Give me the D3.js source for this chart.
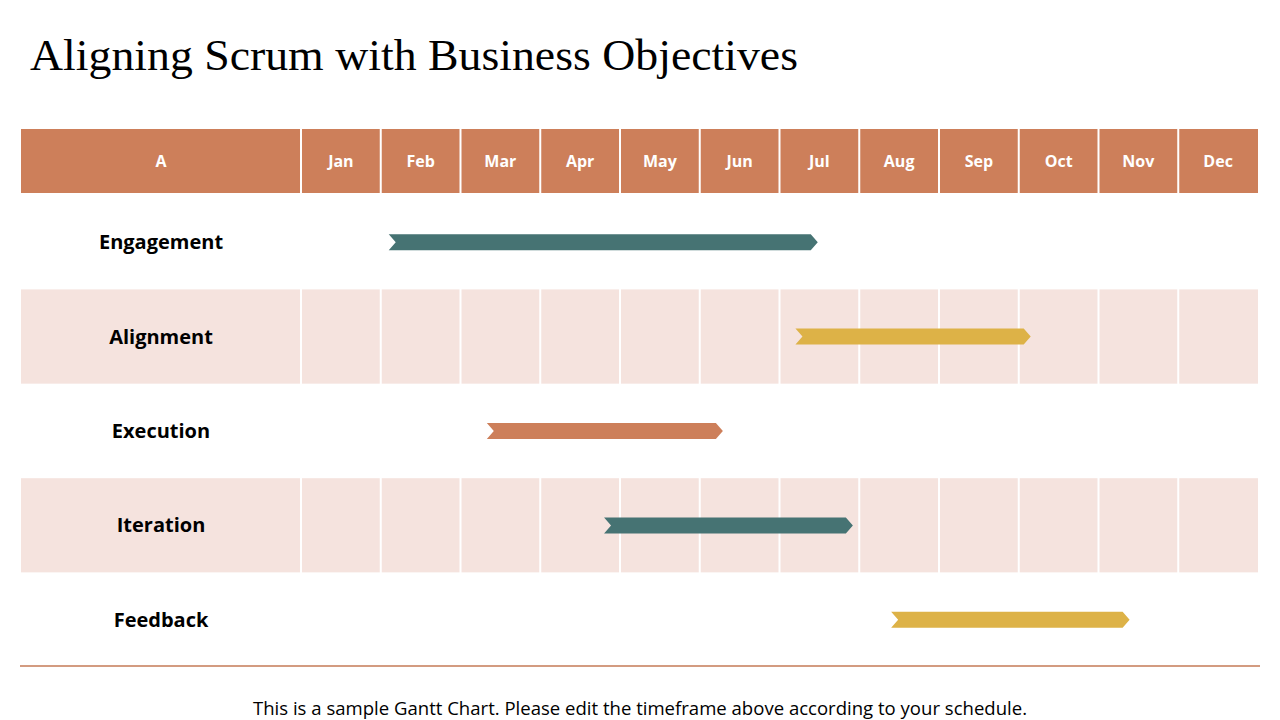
<!DOCTYPE html>
<html lang="en">
<head>
<meta charset="UTF-8">
<title>Aligning Scrum with Business Objectives</title>
<style>
  body { margin: 0; background: #fff; }
  svg { display: block; }
</style>
</head>
<body>
<svg></svg>
<script src="https://cdn.jsdelivr.net/npm/d3@7"></script>
<script>
    /* data */
    const months = ["Jan", "Feb", "Mar", "Apr", "May", "Jun", "Jul", "Aug", "Sep", "Oct", "Nov", "Dec"];
    const tasks = ["Engagement", "Alignment", "Execution", "Iteration", "Feedback"];
    const starts = [1.1, 6.2, 2.33, 3.8, 7.4];   // in months from Jan start
    const ends = [6.48, 9.15, 5.29, 6.92, 10.39];
    const barColors = ["#467373", "#DDB247", "#CD7F5A", "#467373", "#DDB247"];

    /* layout */
    const width = 1280, height = 720;
    const left = 21, labelW = 280, right = 1258;
    const headTop = 129, headBottom = 193, tableBottom = 665;
    const barH = 16, notch = 7;

    const svg = d3.select("svg").attr("width", width).attr("height", height);

    const x = d3.scaleLinear().domain([0, 12]).range([left + labelW, right]);
    const y = d3.scaleBand().domain(tasks).range([headBottom + 2, tableBottom + 2]);

    /* title */
    svg.append("text")
        .attr("x", 30).attr("y", 70)
        .style("font-family", "'Liberation Serif', 'DejaVu Serif', serif")
        .style("font-size", "44px")
        .attr("fill", "#000")
        .attr("textLength", 768).attr("lengthAdjust", "spacingAndGlyphs")
        .text("Aligning Scrum with Business Objectives");

    /* header */
    svg.append("rect")
        .attr("x", left).attr("y", headTop)
        .attr("width", right - left).attr("height", headBottom - headTop)
        .attr("fill", "#CD7F5A");

    /* striped rows */
    svg.selectAll(".row").data(tasks).enter().append("rect")
        .attr("class", "row")
        .attr("x", left).attr("y", d => y(d))
        .attr("width", right - left).attr("height", y.bandwidth())
        .attr("fill", (d, i) => i % 2 ? "#F5E3DE" : "#fff");

    /* vertical separators */
    svg.selectAll(".vline").data(d3.range(12)).enter().append("line")
        .attr("x1", d => x(d)).attr("x2", d => x(d))
        .attr("y1", headTop).attr("y2", tableBottom)
        .attr("stroke", "#fff").attr("stroke-width", 2);

    /* header labels */
    const headFont = "'Open Sans', 'Lato', sans-serif";
    svg.append("text")
        .attr("x", left + labelW / 2).attr("y", (headTop + headBottom) / 2 + 6)
        .attr("text-anchor", "middle").attr("fill", "#fff")
        .style("font-family", headFont).style("font-weight", 700).style("font-size", "16px")
        .text("A");
    svg.selectAll(".month").data(months).enter().append("text")
        .attr("x", (d, i) => (x(i) + x(i + 1)) / 2)
        .attr("y", (headTop + headBottom) / 2 + 6)
        .attr("text-anchor", "middle").attr("fill", "#fff")
        .style("font-family", headFont).style("font-weight", 700).style("font-size", "16px")
        .text(d => d);

    /* row labels */
    svg.selectAll(".task").data(tasks).enter().append("text")
        .attr("x", left + labelW / 2)
        .attr("y", d => y(d) + y.bandwidth() / 2 + 7)
        .attr("text-anchor", "middle").attr("fill", "#000")
        .style("font-family", headFont).style("font-weight", 700).style("font-size", "20px")
        .text(d => d);

    /* chevron bars */
    const chevron = (x0, x1, cy) => {
        const t = cy - barH / 2, b = cy + barH / 2;
        return `M${x0},${t} L${x1 - notch},${t} L${x1},${cy} L${x1 - notch},${b} L${x0},${b} L${x0 + notch},${cy} Z`;
    };
    svg.selectAll(".bar").data(tasks).enter().append("path")
        .attr("class", "bar")
        .attr("d", (d, i) => chevron(x(starts[i]), x(ends[i]), y(d) + y.bandwidth() / 2))
        .attr("fill", (d, i) => barColors[i]);

    /* bottom rule */
    svg.append("line")
        .attr("x1", 20).attr("x2", 1260)
        .attr("y1", tableBottom + 1).attr("y2", tableBottom + 1)
        .attr("stroke", "#D39B80").attr("stroke-width", 2);

    /* footnote */
    svg.append("text")
        .attr("x", 640).attr("y", 715)
        .attr("text-anchor", "middle").attr("fill", "#000")
        .style("font-family", "'Open Sans', 'Lato', sans-serif").style("font-size", "18px")
        .attr("textLength", 774).attr("lengthAdjust", "spacingAndGlyphs")
        .text("This is a sample Gantt Chart. Please edit the timeframe above according to your schedule.");
</script>
</body>
</html>
